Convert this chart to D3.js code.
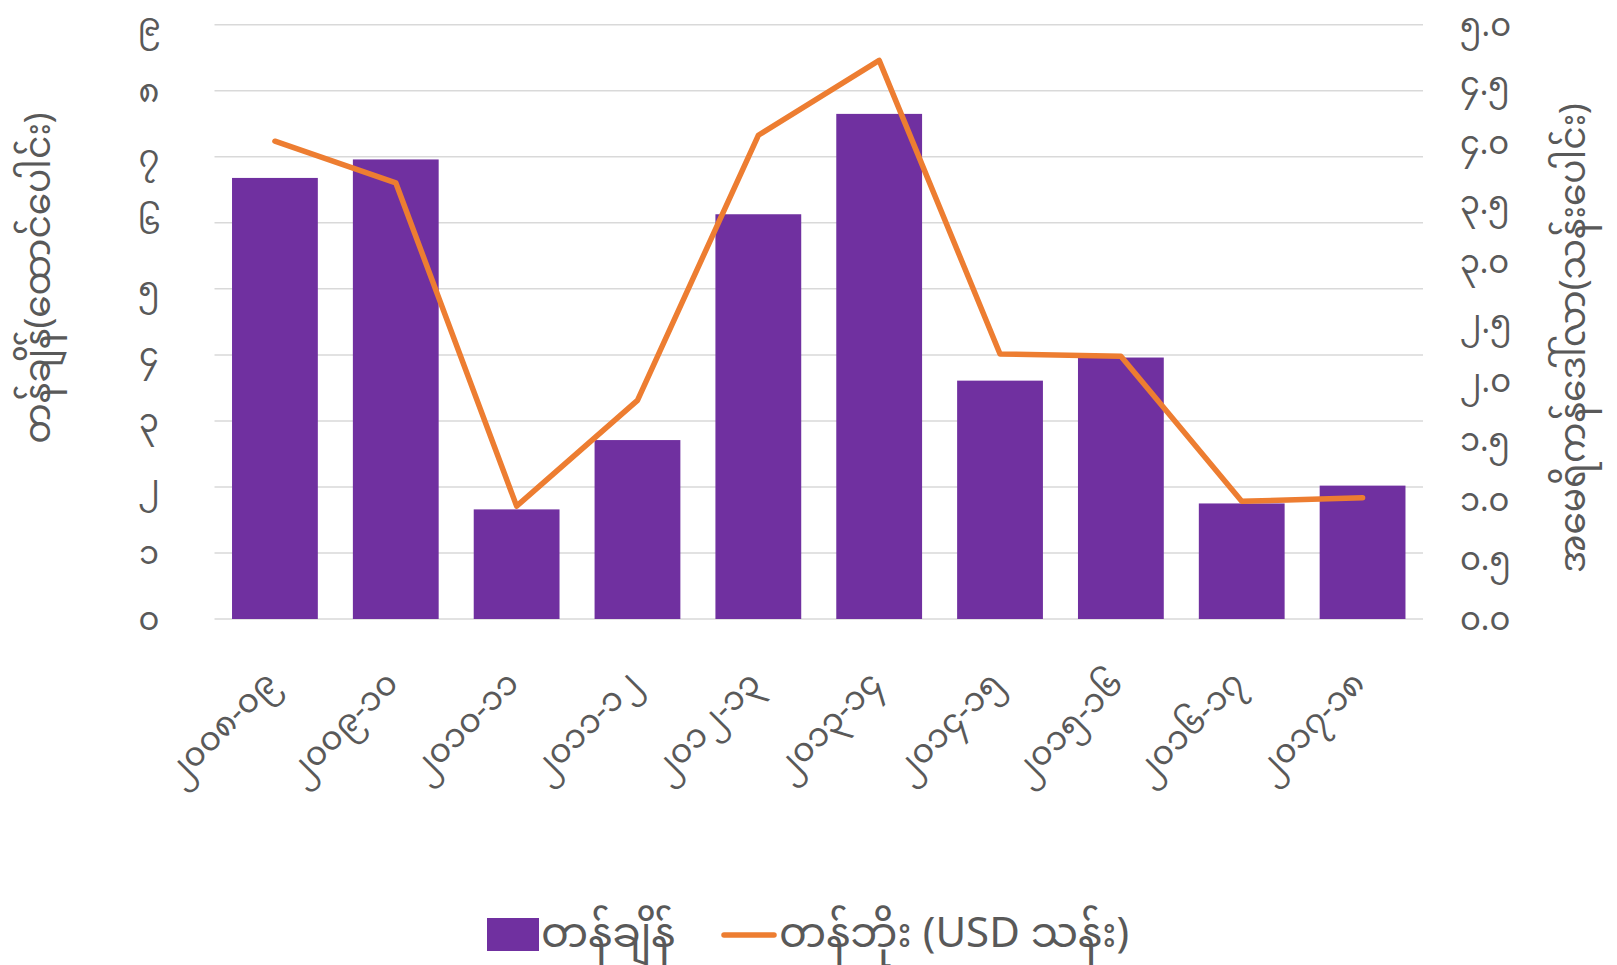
<!DOCTYPE html>
<html>
<head>
<meta charset="utf-8">
<script src="https://cdn.jsdelivr.net/npm/d3@7"></script>
<style>
  body { margin: 0; background: #fff; }
  text { font-family: "Myanmar Text", "Noto Sans Myanmar", "Padauk", "Myanmar3", "Noto Sans", sans-serif; fill: #595959; }
</style>
</head>
<body>
<script>
const years = ["၂၀၀၈-၀၉", "၂၀၀၉-၁၀", "၂၀၁၀-၁၁", "၂၀၁၁-၁၂", "၂၀၁၂-၁၃",
  "၂၀၁၃-၁၄", "၂၀၁၄-၁၅", "၂၀၁၅-၁၆", "၂၀၁၆-၁၇", "၂၀၁၇-၁၈"];
const tonnage = [6.68, 6.96, 1.66, 2.71, 6.13, 7.65, 3.61, 3.96, 1.75, 2.02];
const valueUSD = [4.02, 3.67, 0.95, 1.84, 4.07, 4.70, 2.23, 2.21, 0.99, 1.02];
const leftTicks = [0, 1, 2, 3, 4, 5, 6, 7, 8, 9];
const rightTicks = [0, 0.5, 1, 1.5, 2, 2.5, 3, 3.5, 4, 4.5, 5];

const leftTitle = "တန်ချိန်(ထောင်ပေါင်း)";
const rightTitle = "အမေရိကန်ဒေါ်လာ(သန်းပေါင်း)";
const barName = "တန်ချိန်";
const lineName = "တန်ဘိုး (USD သန်း)";

const W = 1617, H = 965;
const plot = { left: 214.5, right: 1423, top: 24.75, bottom: 619 };
const purple = "#7030A0", orange = "#ED7D31";

const mmDigits = "၀၁၂၃၄၅၆၇၈၉";
const toMM = (s) => String(s).replace(/[0-9]/g, (c) => mmDigits[+c]);

const svg = d3.select("body").append("svg")
  .attr("width", W).attr("height", H);

const x = d3.scaleBand()
  .domain(years)
  .range([plot.left, plot.right])
  .paddingInner(0.29)
  .paddingOuter(0.145);

const yL = d3.scaleLinear().domain([0, 9]).range([plot.bottom, plot.top]);
const yR = d3.scaleLinear().domain([0, 5]).range([plot.bottom, plot.top]);

// gridlines
svg.append("g")
  .selectAll("line")
  .data(leftTicks)
  .enter().append("line")
  .attr("x1", plot.left).attr("x2", plot.right)
  .attr("y1", (d) => yL(d)).attr("y2", (d) => yL(d))
  .attr("stroke", "#D9D9D9").attr("stroke-width", 1.5);

// bars
svg.append("g")
  .selectAll("rect")
  .data(tonnage)
  .enter().append("rect")
  .attr("x", (d, i) => x(years[i]))
  .attr("y", (d) => yL(d))
  .attr("width", x.bandwidth())
  .attr("height", (d) => yL(0) - yL(d))
  .attr("fill", purple);

// line
const line = d3.line()
  .x((d, i) => x(years[i]) + x.bandwidth() / 2)
  .y((d) => yR(d));

svg.append("path")
  .datum(valueUSD)
  .attr("d", line)
  .attr("fill", "none")
  .attr("stroke", orange)
  .attr("stroke-width", 5.5)
  .attr("stroke-linejoin", "round")
  .attr("stroke-linecap", "round");

// left axis
const axL = d3.axisLeft(yL).tickValues(leftTicks).tickSize(0).tickPadding(0)
  .tickFormat((d) => toMM(d));
svg.append("g")
  .attr("transform", `translate(160,0)`)
  .call(axL)
  .call((g) => g.select(".domain").remove())
  .selectAll("text")
  .attr("font-size", 32)
  .attr("text-anchor", "middle")
  .attr("x", -11)
  .style("fill", "#595959");

// right axis
const axR = d3.axisRight(yR).tickValues(rightTicks).tickSize(0).tickPadding(0)
  .tickFormat((d) => toMM(d3.format(".1f")(d)));
svg.append("g")
  .attr("transform", `translate(1460,0)`)
  .call(axR)
  .call((g) => g.select(".domain").remove())
  .selectAll("text")
  .attr("font-size", 32)
  .style("fill", "#595959");

// x axis labels
const axX = d3.axisBottom(x).tickSize(0).tickPadding(0);
svg.append("g")
  .attr("transform", `translate(0,${plot.bottom})`)
  .call(axX)
  .call((g) => g.select(".domain").remove())
  .selectAll("text")
  .attr("font-size", 33)
  .attr("text-anchor", "end")
  .attr("dy", "0")
  .attr("y", 0)
  .attr("transform", "translate(4,66) rotate(-45)")
  .style("fill", "#595959");

// axis titles
svg.append("text")
  .attr("transform", `translate(50,278) rotate(-90)`)
  .attr("text-anchor", "middle")
  .attr("font-size", 36)
  .text(leftTitle);

svg.append("text")
  .attr("transform", `translate(1585,338) rotate(-90)`)
  .attr("text-anchor", "middle")
  .attr("font-size", 36)
  .text(rightTitle);

// legend
const lg = svg.append("g");
lg.append("rect")
  .attr("x", 487).attr("y", 918).attr("width", 52).attr("height", 33)
  .attr("fill", purple);
lg.append("text")
  .attr("x", 541).attr("y", 947)
  .attr("font-size", 42)
  .text(barName);
lg.append("line")
  .attr("x1", 724).attr("x2", 774).attr("y1", 935).attr("y2", 935)
  .attr("stroke", orange).attr("stroke-width", 5.5)
  .attr("stroke-linecap", "round");
lg.append("text")
  .attr("x", 779).attr("y", 947)
  .attr("font-size", 42)
  .text(lineName);
</script>
</body>
</html>
